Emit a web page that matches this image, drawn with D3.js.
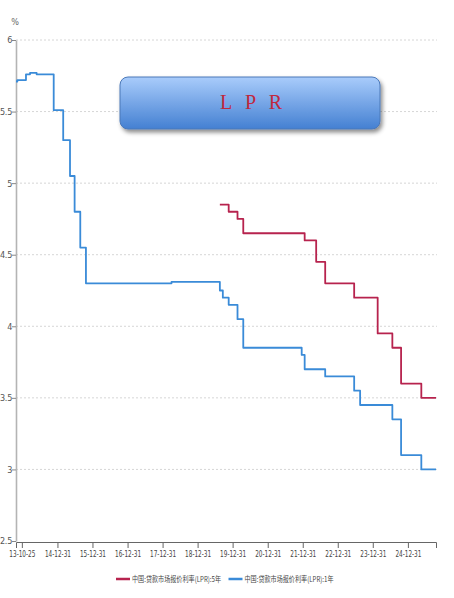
<!DOCTYPE html>
<html>
<head>
<meta charset="utf-8">
<script src="https://cdn.jsdelivr.net/npm/d3@7/dist/d3.min.js"></script>
<style>
  html, body { margin: 0; padding: 0; background: #ffffff; }
  svg { display: block; }
</style>
</head>
<body>
<div id="chart"></div>
<script>
// ---------------- DATA ----------------
// 1-year LPR (old quotation from 2013-10-25, new mechanism from 2019-08-20): change dates and values
const lpr1yDates = ["2013-10-25","2013-11-08","2014-02-06","2014-03-20","2014-05-28","2014-11-22","2015-03-01",
  "2015-05-11","2015-06-28","2015-08-26","2015-10-24","2018-04-03","2019-08-20","2019-09-20","2019-11-20",
  "2020-02-20","2020-04-20","2021-12-20","2022-01-20","2022-08-22","2023-06-20","2023-08-21","2024-07-22",
  "2024-10-21","2025-05-20","2025-10-20"];
const lpr1yValues = [5.71,5.72,5.76,5.77,5.76,5.51,5.30,
  5.05,4.80,4.55,4.30,4.31,4.25,4.20,4.15,
  4.05,3.85,3.80,3.70,3.65,3.55,3.45,3.35,
  3.10,3.00,3.00];
// 5-year LPR
const lpr5yDates = ["2019-08-20","2019-11-20","2020-02-20","2020-04-20","2022-01-20","2022-05-20","2022-08-22",
  "2023-06-20","2024-02-20","2024-07-22","2024-10-21","2025-05-20","2025-10-20"];
const lpr5yValues = [4.85,4.80,4.75,4.65,4.60,4.45,4.30,
  4.20,3.95,3.85,3.60,3.50,3.50];

const seriesNames = ["中国:贷款市场报价利率(LPR):5年", "中国:贷款市场报价利率(LPR):1年"];
const seriesColors = ["#b7234e", "#3a8bd8"];

const xTickDates = ["2013-12-25","2014-12-31","2015-12-31","2016-12-31","2017-12-31","2018-12-31",
  "2019-12-31","2020-12-31","2021-12-31","2022-12-31","2023-12-31","2024-12-31"];
const xTickLabels = ["13-10-25","14-12-31","15-12-31","16-12-31","17-12-31","18-12-31",
  "19-12-31","20-12-31","21-12-31","22-12-31","23-12-31","24-12-31"];
const yTicks = [2.5, 3, 3.5, 4, 4.5, 5, 5.5, 6];
const yUnit = "%";
const titleText = "L P R";

// ---------------- CHART ----------------
const W = 454, H = 598;
const parse = d3.timeParse("%Y-%m-%d");
const svg = d3.select("#chart").append("svg").attr("width", W).attr("height", H);

const defs = svg.append("defs");
const grad = defs.append("linearGradient").attr("id", "boxGrad")
  .attr("x1", 0).attr("y1", 0).attr("x2", 0).attr("y2", 1);
grad.append("stop").attr("offset", "0%").attr("stop-color", "#a9ccfb");
grad.append("stop").attr("offset", "100%").attr("stop-color", "#4480d2");
const filt = defs.append("filter").attr("id", "shadow").attr("x", "-10%").attr("y", "-20%")
  .attr("width", "125%").attr("height", "160%");
filt.append("feDropShadow").attr("dx", 2).attr("dy", 3).attr("stdDeviation", 2)
  .attr("flood-color", "#000").attr("flood-opacity", 0.45);

const x = d3.scaleTime().domain([parse("2013-10-25"), parse("2025-10-20")]).range([16, 436]);
const y = d3.scaleLinear().domain([2.5, 6]).range([541, 40]);

const font = "'Liberation Sans Narrow', 'DejaVu Sans Condensed', 'Liberation Sans', sans-serif";

// grid
svg.append("g").selectAll("line").data(yTicks.filter(v => v > 2.5)).join("line")
  .attr("x1", 16).attr("x2", 437)
  .attr("y1", d => y(d)).attr("y2", d => y(d))
  .attr("stroke", "#d6d6d6").attr("stroke-width", 1).attr("stroke-dasharray", "2,2");

// y axis
const yAxis = svg.append("g").attr("transform", "translate(16,0)")
  .call(d3.axisLeft(y).tickValues(yTicks).tickFormat(d3.format("")).tickSize(4).tickSizeOuter(0));
yAxis.select(".domain").attr("stroke", "#b4b4b4").attr("stroke-width", 1.6);
yAxis.selectAll(".tick line").attr("stroke", "#888");
yAxis.selectAll(".tick text").attr("fill", "#555").attr("font-family", font).attr("font-size", 9)
  .attr("x", -4).attr("letter-spacing", "-0.3px");

svg.append("text").attr("x", 15).attr("y", 25).attr("text-anchor", "middle")
  .attr("fill", "#666").attr("font-family", font).attr("font-size", 9).text(yUnit);

// x axis
const xAxis = svg.append("g").attr("transform", "translate(0,542)")
  .call(d3.axisBottom(x).tickValues(xTickDates.map(parse))
    .tickFormat((d, i) => xTickLabels[i]).tickSize(6).tickSizeOuter(6));
xAxis.select(".domain").attr("stroke", "#666").attr("stroke-width", 1);
xAxis.selectAll(".tick line").attr("stroke", "#666");
xAxis.selectAll(".tick text").attr("fill", "#444").attr("font-family", font).attr("font-size", 9.5)
  .attr("y", 8).attr("textLength", 26).attr("lengthAdjust", "spacingAndGlyphs");

// lines
const line = d3.line().x(d => x(d.date)).y(d => y(d.value)).curve(d3.curveStepAfter);
const s1 = lpr1yDates.map((d, i) => ({ date: parse(d), value: lpr1yValues[i] }));
const s5 = lpr5yDates.map((d, i) => ({ date: parse(d), value: lpr5yValues[i] }));

svg.append("path").datum(s1).attr("d", line).attr("fill", "none")
  .attr("stroke", seriesColors[1]).attr("stroke-width", 1.8).attr("stroke-linejoin", "round");
svg.append("path").datum(s5).attr("d", line).attr("fill", "none")
  .attr("stroke", seriesColors[0]).attr("stroke-width", 1.8).attr("stroke-linejoin", "round");

// title box
svg.append("rect").attr("x", 120).attr("y", 77).attr("width", 260).attr("height", 52)
  .attr("rx", 8).attr("ry", 8).attr("fill", "url(#boxGrad)")
  .attr("stroke", "#4a78b8").attr("stroke-width", 1).attr("filter", "url(#shadow)");
svg.append("text").attr("x", 251).attr("y", 109).attr("text-anchor", "middle")
  .attr("font-family", "'Liberation Serif', 'DejaVu Serif', serif").attr("font-size", 20)
  .attr("fill", "#c0283e").attr("textLength", 62).attr("lengthAdjust", "spacing").text(titleText);

// legend
const legendItems = [
  { name: seriesNames[0], color: seriesColors[0], x: 116 },
  { name: seriesNames[1], color: seriesColors[1], x: 228.5 }
];
const lg = svg.append("g").selectAll("g").data(legendItems).join("g")
  .attr("transform", d => `translate(${d.x},579)`);
lg.append("line").attr("x1", 0).attr("x2", 14).attr("y1", 0).attr("y2", 0)
  .attr("stroke", d => d.color).attr("stroke-width", 2.5);
lg.append("text").attr("x", 16).attr("y", 3).attr("font-family", "'Noto Sans CJK SC', sans-serif")
  .attr("font-size", 8).attr("fill", "#444").attr("textLength", 89).attr("lengthAdjust", "spacingAndGlyphs")
  .text(d => d.name);
</script>
</body>
</html>
